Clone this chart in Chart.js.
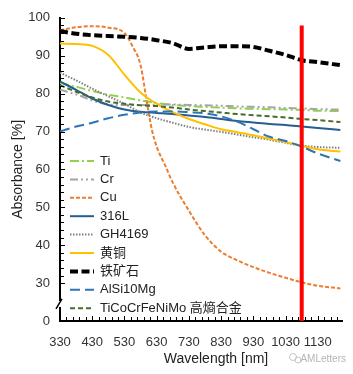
<!DOCTYPE html>
<html><head><meta charset="utf-8">
<script src="https://cdn.jsdelivr.net/npm/chart.js@4.4.1/dist/chart.umd.min.js"></script>
<style>html,body{margin:0;padding:0;background:#fff;}</style>
</head><body>
<canvas id="c" width="353" height="374"></canvas>
<script>
// ---- data ----
const wavelengths = [330,380,430,480,530,580,630,680,730,780,830,880,930,980,1030,1080,1130,1200];
const tiValues      = [82.8,81.8,80.7,79.7,79.0,78.2,77.5,77.0,76.7,76.5,76.3,76.1,76.0,75.9,75.8,75.7,75.5,75.4];
const crValues      = [81.0,79.8,78.2,77.1,77.0,77.0,77.1,77.1,77.0,76.9,76.8,76.6,76.5,76.4,76.2,76.1,75.9,75.8];
const l316Values    = [83.2,81.0,78.7,77.0,75.8,75.2,74.9,74.6,74.2,73.8,73.3,72.8,72.4,72.0,71.7,71.3,70.9,70.4];
const gh4169Values  = [85.5,83.5,81.3,79.3,77.3,75.0,73.5,72.3,71.2,70.5,69.9,69.2,68.5,67.8,67.0,66.3,65.9,65.7];
const brassValues   = [93.2,93.1,92.6,90.2,85.0,80.3,77.3,75.1,73.3,71.9,70.6,69.8,69.0,68.1,67.2,66.2,65.3,64.7];
const ironOreValues = [96.5,95.8,95.4,95.2,95.0,94.7,94.1,93.3,91.8,92.2,92.5,92.5,92.3,91.3,90.2,88.8,88.3,87.5];
const alsiValues    = [70.0,71.3,72.3,73.5,74.4,75.0,75.3,75.3,75.1,74.8,74.0,72.6,70.6,68.6,67.5,66.0,64.2,62.2];
const heaValues     = [82.2,80.5,79.0,77.9,77.3,76.9,76.7,76.3,75.8,75.4,75.0,74.6,74.3,74.0,73.7,73.3,73.0,72.5];
const cuWavelengths = [330,380,430,480,530,555,580,600,615,630,655,680,730,780,830,880,930,980,1030,1080,1130,1200];
const cuValues      = [96.7,97.5,97.8,97.4,96.0,92.5,87.5,77.5,70.5,66.0,61.3,56.5,49.1,42.6,38.3,36.0,34.2,32.7,31.4,30.2,29.3,28.6];
const laserWavelength = 1080;
const laserSpan = [20, 98];   // from the axis baseline (labelled 0 on the broken axis) up to 98
const seriesNames = ['Ti','Cr','Cu','316L','GH4169','黄铜','铁矿石','AlSi10Mg','TiCoCrFeNiMo 高熵合金'];
const xTickLabels = [330,430,530,630,730,830,930,1030,1130];
const yTickValues = [20,30,40,50,60,70,80,90,100];
const yTickLabels = ['0','30','40','50','60','70','80','90','100'];
const xTitle = 'Wavelength [nm]';

const FONT = '"Liberation Sans", "Noto Sans CJK SC", sans-serif';
Chart.defaults.font.family = FONT;

function pts(xs, ys){ return xs.map((x,i)=>({x:x, y:ys[i]})); }

const styles = [
  {color:'#92D050', width:2, dash:[9,3,2,3]},
  {color:'#A5A5A5', width:2, dash:[8,3,2,3,2,3]},
  {color:'#ED7D31', width:2, dash:[4,2]},
  {color:'#255E91', width:2, dash:[]},
  {color:'#7F7F7F', width:2, dash:[1.5,1.5]},
  {color:'#FFC000', width:2, dash:[]},
  {color:'#000000', width:4, dash:[8,3.5]},
  {color:'#2E75B6', width:2, dash:[10,5]},
  {color:'#476B28', width:2, dash:[5,3]}
];
const seriesValues = [tiValues, crValues, cuValues, l316Values, gh4169Values, brassValues, ironOreValues, alsiValues, heaValues];

const datasets = seriesNames.map((name,i)=>({
  label: name,
  data: pts(i===2 ? cuWavelengths : wavelengths, seriesValues[i]),
  borderColor: styles[i].color,
  borderWidth: styles[i].width,
  borderDash: styles[i].dash,
  borderCapStyle: 'butt',
  pointRadius: 0,
  fill: false,
  cubicInterpolationMode: 'monotone',
  order: -i,
  inLegend: true
}));
datasets.push({
  label: 'laser',
  data: laserSpan.map(v=>({x:laserWavelength, y:v})),
  borderColor: '#FF0000',
  borderWidth: 4,
  borderCapStyle: 'butt',
  pointRadius: 0,
  order: -100,
  inLegend: false
});

const decor = {
  id: 'decor',
  afterDraw(chart){
    const ctx = chart.ctx, xs = chart.scales.x, ys = chart.scales.y, a = chart.chartArea;
    ctx.save();
    ctx.strokeStyle = '#000'; ctx.lineWidth = 1;
    for (let v = 330; v <= 1200; v += 20) {
      const px = Math.round(xs.getPixelForValue(v)) + 0.5;
      const major = xTickLabels.includes(v);
      ctx.beginPath(); ctx.moveTo(px, a.bottom); ctx.lineTo(px, a.bottom - (major ? 5 : 4)); ctx.stroke();
    }
    for (let v = 30; v <= 100; v += 2) {
      const py = Math.round(ys.getPixelForValue(v)) + 0.5;
      const major = v % 10 === 0;
      ctx.beginPath(); ctx.moveTo(a.left, py); ctx.lineTo(a.left + (major ? 5 : 4), py); ctx.stroke();
    }
    // x tick labels
    ctx.fillStyle = '#333'; ctx.font = '13px ' + FONT; ctx.textAlign = 'center'; ctx.textBaseline = 'middle';
    xTickLabels.forEach(v => ctx.fillText(String(v), xs.getPixelForValue(v), a.bottom + 21));
    // x axis title (placed as in the reference, right of the plot centre)
    ctx.fillStyle = '#222'; ctx.font = '14px ' + FONT;
    ctx.fillText(xTitle, (a.left + a.right) / 2 + 15, a.bottom + 38);
    // axis break
    const yb = ys.getPixelForValue(24.5);
    ctx.fillStyle = '#fff';
    ctx.fillRect(a.left - 3, yb - 3, 6, 6);
    ctx.lineWidth = 1.5;
    ctx.beginPath(); ctx.moveTo(a.left - 4, yb + 5); ctx.lineTo(a.left + 2, yb - 5); ctx.stroke();
    // legend
    const lx = a.left + 10, ly0 = 161, dy = 18.4;
    chart.data.datasets.filter(d=>d.inLegend).forEach((d,i)=>{
      const y = ly0 + i*dy;
      ctx.strokeStyle = d.borderColor; ctx.lineWidth = d.borderWidth;
      ctx.setLineDash(d.borderDash);
      ctx.beginPath(); ctx.moveTo(lx, y); ctx.lineTo(lx + 24, y); ctx.stroke();
      ctx.setLineDash([]);
      ctx.fillStyle = '#222'; ctx.font = '13px ' + FONT; ctx.textBaseline = 'middle'; ctx.textAlign = 'left';
      ctx.fillText(d.label, lx + 30, y);
    });
    // watermark with a small icon
    ctx.strokeStyle = '#c4c4c4'; ctx.lineWidth = 1;
    ctx.beginPath(); ctx.arc(293, 357, 3.5, 0, Math.PI * 2); ctx.stroke();
    ctx.beginPath(); ctx.arc(298, 360, 3, 0, Math.PI * 2); ctx.stroke();
    ctx.fillStyle = '#b5b5b5'; ctx.font = '10px ' + FONT; ctx.textAlign = 'right';
    ctx.fillText('AMLetters', 346, 359);
    ctx.restore();
  }
};

new Chart(document.getElementById('c'), {
  type: 'line',
  data: { datasets },
  options: {
    responsive: false,
    animation: false,
    layout: { padding: { top: 14, right: 11, left: 0, bottom: 0 } },
    plugins: { legend: { display: false }, tooltip: { enabled: false } },
    scales: {
      x: {
        type: 'linear', min: 330, max: 1205,
        afterBuildTicks: s => { s.ticks = xTickLabels.map(v=>({value:v})); },
        afterFit: s => { s.height = 53; },
        grid: { display: true, drawOnChartArea: false, drawTicks: false, tickLength: 0 },
        border: { display: true, color: '#000', width: 2 },
        ticks: { display: false },
        title: { display: false }
      },
      y: {
        type: 'linear', min: 20, max: 100,
        afterBuildTicks: s => { s.ticks = yTickValues.map(v=>({value:v})); },
        afterFit: s => { s.width = 60; },
        grid: { display: true, drawOnChartArea: false, drawTicks: false, tickLength: 0 },
        border: { display: true, color: '#000', width: 2 },
        ticks: { autoSkip: false, padding: 10, color: '#333', font: { size: 13 },
          callback: v => yTickLabels[yTickValues.indexOf(v)] },
        title: { display: true, text: 'Absorbance [%]', color: '#222', font: { size: 14 }, padding: { top: 10, bottom: 0 } }
      }
    }
  },
  plugins: [decor]
});
</script>
</body></html>
